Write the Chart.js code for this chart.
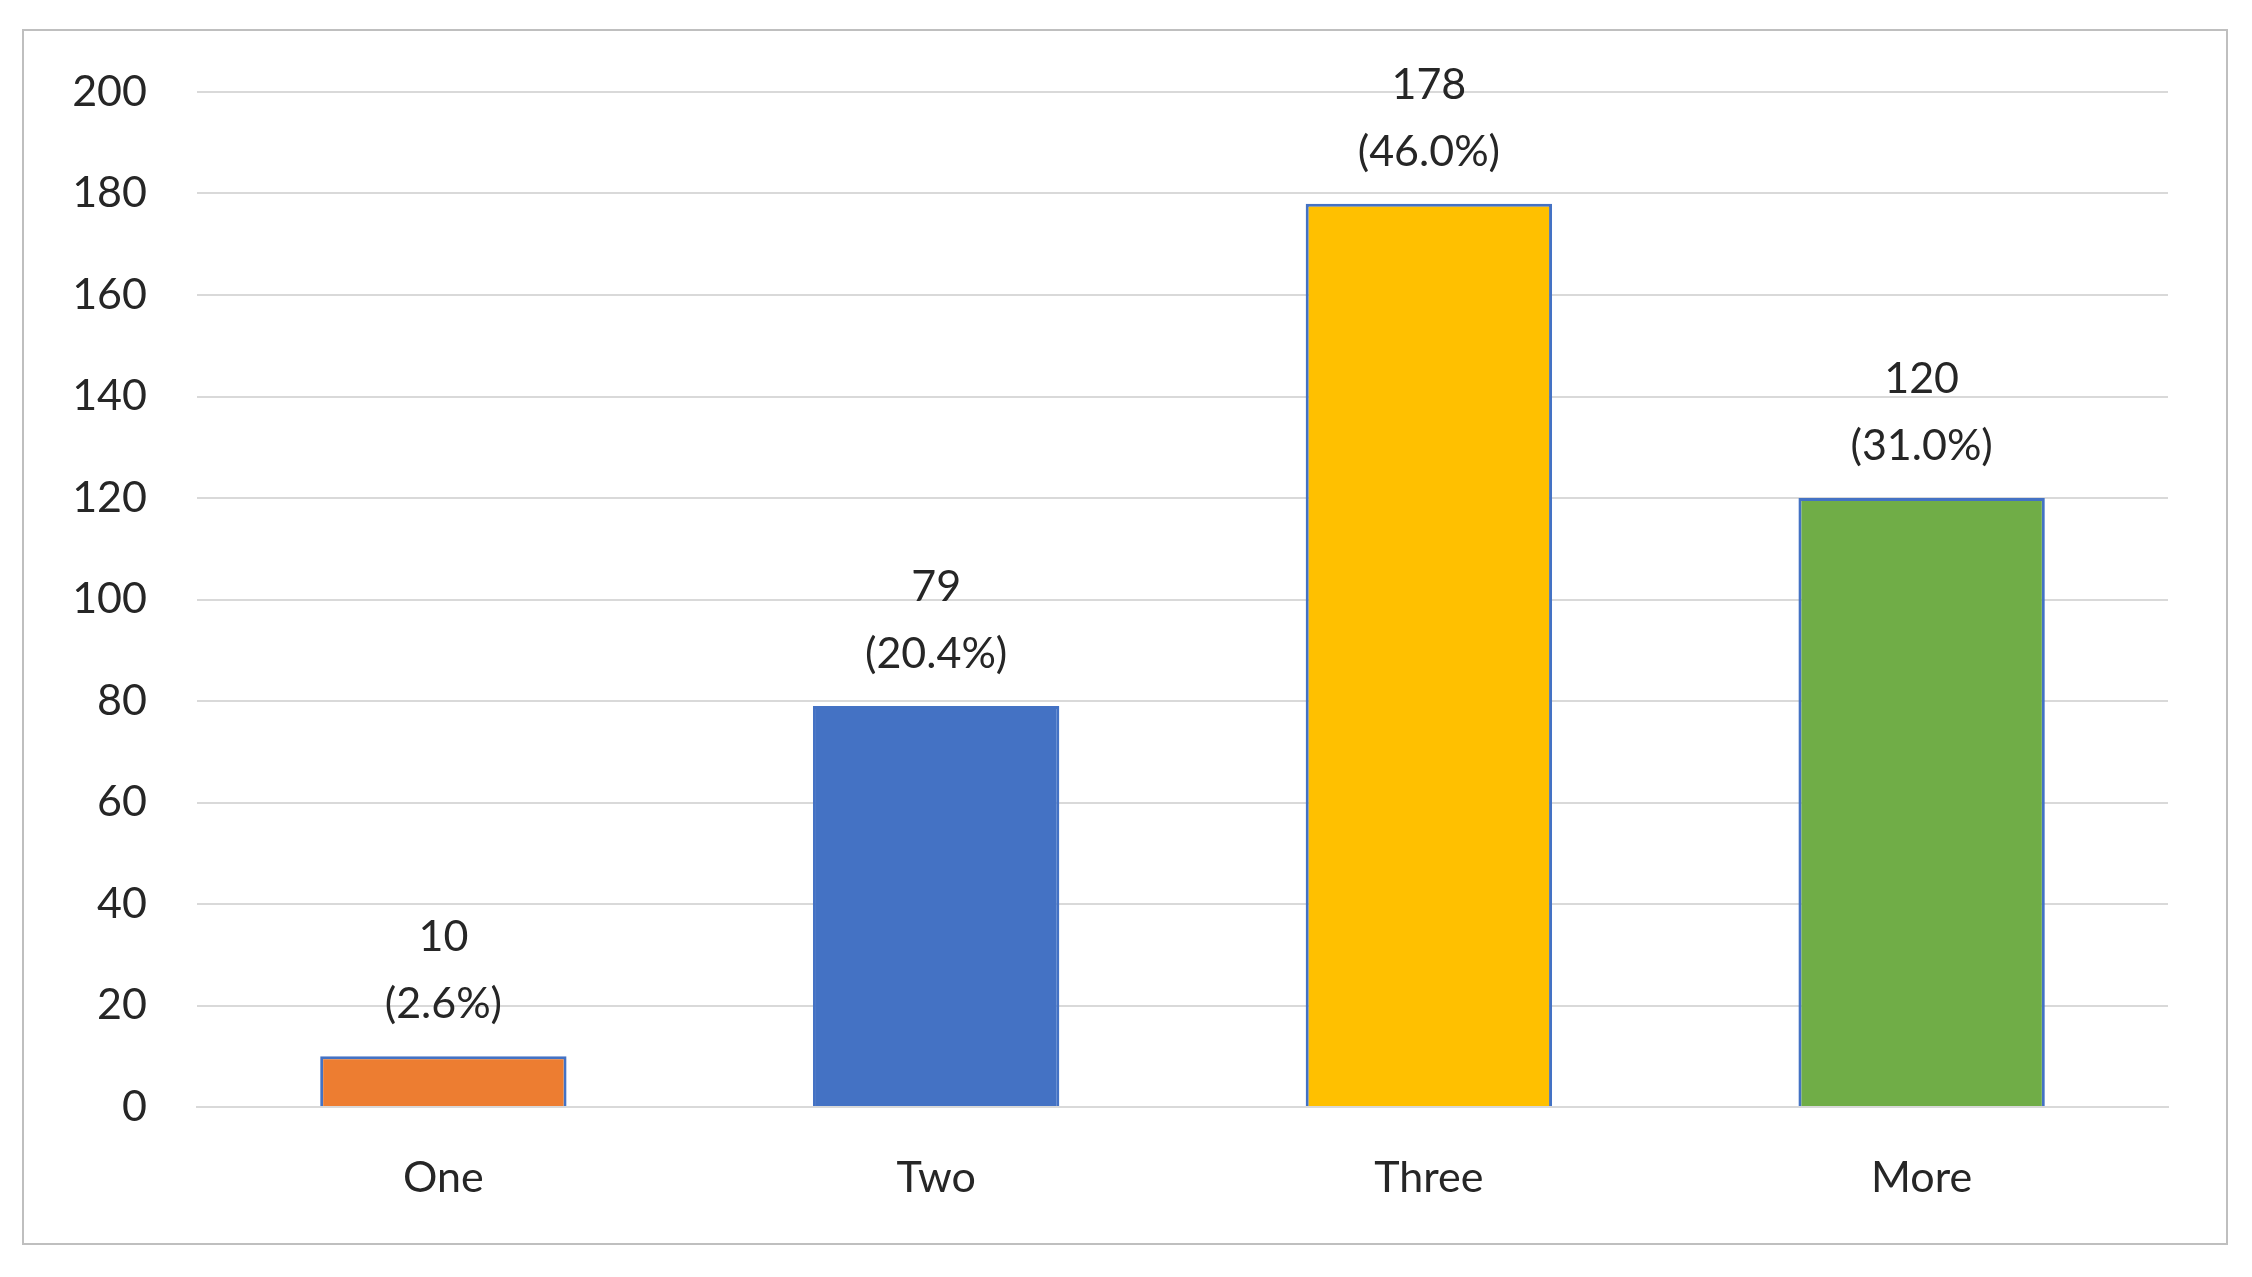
<!DOCTYPE html>
<html>
<head>
<meta charset="utf-8">
<script src="https://cdn.jsdelivr.net/npm/chart.js@4"></script>
<style>
  html, body { margin: 0; padding: 0; background: #fff; }
  #wrap { position: relative; width: 2252px; height: 1277px; }
  #frame { position: absolute; left: 22px; top: 29px; width: 2206px; height: 1216px; border: 2px solid #BFBFBF; box-sizing: border-box; }
  canvas { position: absolute; left: 0; top: 0; }
</style>
</head>
<body>
<div id="wrap">
  <div id="frame"></div>
  <canvas id="chart" width="2252" height="1277"></canvas>
</div>
<script>
// --- DATA ---
const categories = ['One', 'Two', 'Three', 'More'];
const counts = [10, 79, 178, 120];
const percents = ['2.6%', '20.4%', '46.0%', '31.0%'];
const yTicks = [0, 20, 40, 60, 80, 100, 120, 140, 160, 180, 200];
const barColors = ['#ED7D31', '#4472C4', '#FFC000', '#70AD47'];

const FONT = "Lato, 'Open Sans', sans-serif";
const TEXT = '#262626';

// two-line value labels above each bar
const valueLabels = {
    id: 'valueLabels',
    afterDatasetsDraw(chart) {
        const ctx = chart.ctx;
        const meta = chart.getDatasetMeta(0);
        ctx.save();
        ctx.font = `43px ${FONT}`;
        ctx.fillStyle = TEXT;
        ctx.textAlign = 'center';
        ctx.textBaseline = 'alphabetic';
        meta.data.forEach((bar, i) => {
            ctx.fillText(`(${percents[i]})`, bar.x, bar.y - 38);
            ctx.fillText(String(counts[i]), bar.x, bar.y - 105);
        });
        ctx.restore();
    }
};

new Chart(document.getElementById('chart'), {
    type: 'bar',
    data: {
        labels: categories,
        datasets: [{
            data: counts,
            backgroundColor: barColors,
            borderColor: '#4472C4',
            borderWidth: 3,
            categoryPercentage: 1,
            barPercentage: 0.5
        }]
    },
    options: {
        responsive: false,
        animation: false,
        layout: { padding: { left: 22, top: 92, right: 84, bottom: 30 } },
        plugins: { legend: { display: false }, tooltip: { enabled: false } },
        scales: {
            y: {
                min: 0, max: 200,
                afterBuildTicks: (axis) => { axis.ticks = yTicks.map(v => ({ value: v })); },
                afterFit: (axis) => { axis.width = 175; },
                ticks: { color: TEXT, font: { family: FONT, size: 43 }, padding: 50 },
                grid: { color: '#D9D9D9', lineWidth: 2, drawTicks: false },
                border: { display: false }
            },
            x: {
                afterFit: (axis) => { axis.height = 140; },
                ticks: { color: TEXT, font: { family: FONT, size: 43 }, padding: 45 },
                grid: { display: false, drawTicks: false },
                border: { color: '#D9D9D9', width: 2 }
            }
        }
    },
    plugins: [valueLabels]
});
</script>
</body>
</html>
